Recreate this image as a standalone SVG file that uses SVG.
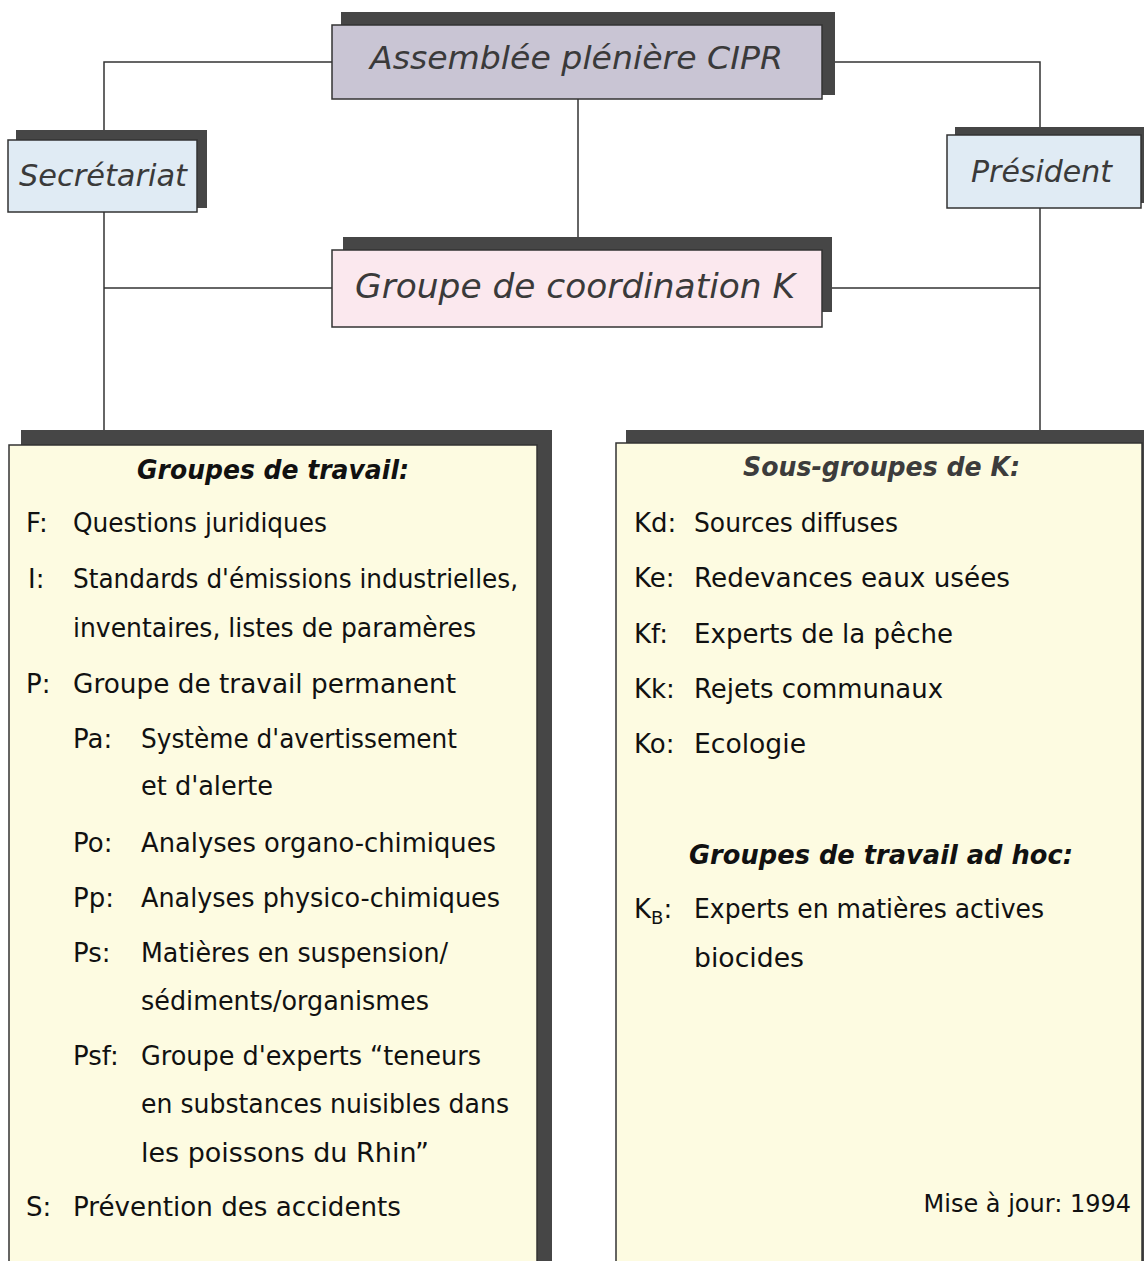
<svg xmlns="http://www.w3.org/2000/svg" width="1144" height="1261" viewBox="0 0 1144 1261">
<style>
.sh{fill:#464646}
.bx{stroke:#333;stroke-width:1.5}
.ttl{font-family:'DejaVu Sans','Liberation Sans',sans-serif;font-style:italic;fill:#3a3a3a}
.t{font-family:'DejaVu Sans','Liberation Sans',sans-serif;font-size:26px;fill:#111}
.h{font-family:'DejaVu Sans','Liberation Sans',sans-serif;font-size:27px;font-weight:bold;font-style:italic;fill:#111}
.con{stroke:#333;stroke-width:1.5;fill:none}
</style>
<rect width="1144" height="1261" fill="#fff"/>
<g id="connectors">
<polyline class="con" points="332,62 104,62 104,130"/>
<polyline class="con" points="822,62 1040,62 1040,127"/>
<line class="con" x1="578" y1="99" x2="578" y2="237"/>
<line class="con" x1="104" y1="288" x2="332" y2="288"/>
<line class="con" x1="832" y1="288" x2="1040" y2="288"/>
<line class="con" x1="104" y1="212" x2="104" y2="430"/>
<line class="con" x1="1040" y1="208" x2="1040" y2="430"/>
</g>
<g id="assemblee">
<rect class="sh" x="341" y="12" width="494" height="83"/>
<rect class="bx" x="332" y="25" width="490" height="74" fill="#c9c5d4"/>
<text class="ttl" x="370" y="69" font-size="32" textLength="413" lengthAdjust="spacingAndGlyphs">Assemblée plénière CIPR</text>
</g>
<g id="secretariat">
<rect class="sh" x="16" y="130" width="191" height="78"/>
<rect class="bx" x="8" y="140" width="189" height="72" fill="#e0ebf4"/>
<text class="ttl" x="19" y="186" font-size="31" textLength="168" lengthAdjust="spacingAndGlyphs">Secrétariat</text>
</g>
<g id="president">
<rect class="sh" x="955" y="127" width="189" height="76"/>
<rect class="bx" x="947" y="135" width="194" height="73" fill="#e0ebf4"/>
<text class="ttl" x="971" y="182" font-size="31" textLength="141" lengthAdjust="spacingAndGlyphs">Président</text>
</g>
<g id="coordination">
<rect class="sh" x="343" y="237" width="489" height="75"/>
<rect class="bx" x="332" y="250" width="490" height="77" fill="#fbe8ee"/>
<text class="ttl" x="355" y="298" font-size="33" textLength="440" lengthAdjust="spacingAndGlyphs">Groupe de coordination K</text>
</g>
<g id="groupes-travail">
<rect class="sh" x="21" y="430" width="531" height="831"/>
<rect class="bx" x="9" y="445" width="528" height="818" fill="#fdfbe1"/>
<text class="h" x="137" y="479" textLength="272" lengthAdjust="spacingAndGlyphs">Groupes de travail:</text>
<text class="t" x="26" y="532">F:</text>
<text class="t" x="73" y="532" textLength="254" lengthAdjust="spacingAndGlyphs">Questions juridiques</text>
<text class="t" x="28" y="588">I:</text>
<text class="t" x="73" y="588" textLength="445" lengthAdjust="spacingAndGlyphs">Standards d'émissions industrielles,</text>
<text class="t" x="73" y="637" textLength="403" lengthAdjust="spacingAndGlyphs">inventaires, listes de paramères</text>
<text class="t" x="26" y="693">P:</text>
<text class="t" x="73" y="693" textLength="383" lengthAdjust="spacingAndGlyphs">Groupe de travail permanent</text>
<text class="t" x="73" y="748">Pa:</text>
<text class="t" x="141" y="748" textLength="316" lengthAdjust="spacingAndGlyphs">Système d'avertissement</text>
<text class="t" x="141" y="795" textLength="132" lengthAdjust="spacingAndGlyphs">et d'alerte</text>
<text class="t" x="73" y="852">Po:</text>
<text class="t" x="141" y="852" textLength="355" lengthAdjust="spacingAndGlyphs">Analyses organo-chimiques</text>
<text class="t" x="73" y="907">Pp:</text>
<text class="t" x="141" y="907" textLength="359" lengthAdjust="spacingAndGlyphs">Analyses physico-chimiques</text>
<text class="t" x="73" y="962">Ps:</text>
<text class="t" x="141" y="962" textLength="307" lengthAdjust="spacingAndGlyphs">Matières en suspension/</text>
<text class="t" x="141" y="1010" textLength="288" lengthAdjust="spacingAndGlyphs">sédiments/organismes</text>
<text class="t" x="73" y="1065">Psf:</text>
<text class="t" x="141" y="1065" textLength="340" lengthAdjust="spacingAndGlyphs">Groupe d'experts “teneurs</text>
<text class="t" x="141" y="1113" textLength="368" lengthAdjust="spacingAndGlyphs">en substances nuisibles dans</text>
<text class="t" x="141" y="1162" textLength="288" lengthAdjust="spacingAndGlyphs">les poissons du Rhin”</text>
<text class="t" x="26" y="1216">S:</text>
<text class="t" x="73" y="1216" textLength="328" lengthAdjust="spacingAndGlyphs">Prévention des accidents</text>
</g>
<g id="sous-groupes">
<rect class="sh" x="626" y="430" width="518" height="831"/>
<rect class="bx" x="616" y="443" width="526" height="820" fill="#fdfbe1"/>
<text class="h" x="743" y="476" textLength="277" lengthAdjust="spacingAndGlyphs" style="fill:#3c3c3c">Sous-groupes de K:</text>
<text class="t" x="634" y="532">Kd:</text>
<text class="t" x="694" y="532" textLength="204" lengthAdjust="spacingAndGlyphs">Sources diffuses</text>
<text class="t" x="634" y="587">Ke:</text>
<text class="t" x="694" y="587" textLength="316" lengthAdjust="spacingAndGlyphs">Redevances eaux usées</text>
<text class="t" x="634" y="643">Kf:</text>
<text class="t" x="694" y="643" textLength="259" lengthAdjust="spacingAndGlyphs">Experts de la pêche</text>
<text class="t" x="634" y="698">Kk:</text>
<text class="t" x="694" y="698" textLength="249" lengthAdjust="spacingAndGlyphs">Rejets communaux</text>
<text class="t" x="634" y="753">Ko:</text>
<text class="t" x="694" y="753" textLength="112" lengthAdjust="spacingAndGlyphs">Ecologie</text>
<text class="h" x="689" y="864" textLength="384" lengthAdjust="spacingAndGlyphs">Groupes de travail ad hoc:</text>
<text class="t" x="634" y="918">K<tspan font-size="18" dy="6">B</tspan><tspan dy="-6">:</tspan></text>
<text class="t" x="694" y="918" textLength="350" lengthAdjust="spacingAndGlyphs">Experts en matières actives</text>
<text class="t" x="694" y="967" textLength="110" lengthAdjust="spacingAndGlyphs">biocides</text>
<text class="t" x="1131" y="1212" text-anchor="end" style="font-size:24px">Mise à jour: 1994</text>
</g>
</svg>
